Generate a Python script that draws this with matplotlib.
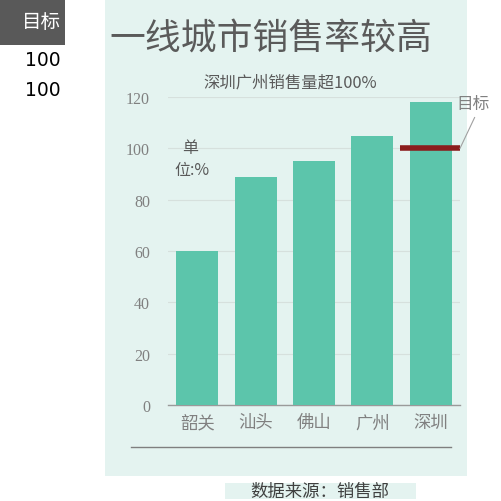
import matplotlib
matplotlib.use("Agg")
import matplotlib.pyplot as plt
import matplotlib.patches as mpatches
import numpy as np

plt.rcParams['font.family'] = ['Noto Sans CJK SC', 'DejaVu Sans']

# ── colours ──────────────────────────────────────────────────────────────────
PANEL  = "#e4f3f0"
BAR    = "#5cc5ab"
TARGET = "#8b1c1c"
TITLE  = "#5a5a5a"
GREY   = "#808080"
GRID   = "#d6e0dd"
BOX    = "#595959"

# ── data ─────────────────────────────────────────────────────────────────────
cities = ["韶关", "汕头", "佛山", "广州", "深圳"]
sales  = [60, 89, 95, 105, 118]
target = 100
yticks = [0, 20, 40, 60, 80, 100, 120]

W = H = 502
fig = plt.figure(figsize=(W / 100, H / 100), dpi=100, facecolor="white")

def fx(px):
    return px / W

def fy(py):
    return 1 - py / H

# mint background panel
fig.patches.append(mpatches.Rectangle((fx(105), fy(477)), fx(467 - 105), 477 / H,
                                      transform=fig.transFigure, facecolor=PANEL,
                                      edgecolor="none", zorder=-10))
# dark "目标" box top-left
fig.patches.append(mpatches.Rectangle((0, fy(46)), fx(65), 46 / H,
                                      transform=fig.transFigure, facecolor=BOX,
                                      edgecolor="none", zorder=-10))
fig.text(fx(41), fy(22), "目标", ha="center", va="center", fontsize=14, color="white")
fig.text(fx(43), fy(60), str(target), ha="center", va="center", fontsize=13.5,
         color="black", family=["DejaVu Sans"])
fig.text(fx(43), fy(90), str(target), ha="center", va="center", fontsize=13.5,
         color="black", family=["DejaVu Sans"])

# titles
fig.text(fx(109), fy(40), "一线城市销售率较高", ha="left", va="center",
         fontsize=25.8, color=TITLE)
fig.text(fx(290), fy(83), "深圳广州销售量超100%", ha="center", va="center",
         fontsize=11.8, color=TITLE)

# ── axes ─────────────────────────────────────────────────────────────────────
ax = fig.add_axes([fx(168), fy(406), fx(460 - 168), (406 - 98) / H])
ax.set_facecolor("none")
x = np.arange(len(cities))
ax.bar(x, sales, width=0.72, color=BAR, zorder=3)
ax.set_xlim(-0.5, len(cities) - 0.5)
ax.set_ylim(0, 120)
ax.set_yticks(yticks)
ax.set_yticklabels([str(t) for t in yticks], fontsize=11.5, color=GREY,
                   family=["Liberation Serif", "DejaVu Serif"])
ax.set_xticks(x)
ax.set_xticklabels(cities, fontsize=12.5, color=GREY)
ax.tick_params(length=0, pad=6)
ax.tick_params(axis="y", pad=13)
ax.yaxis.grid(True, color=GRID, linewidth=0.8, zorder=0)
ax.set_axisbelow(True)
for s in ["top", "right", "left"]:
    ax.spines[s].set_visible(False)
ax.spines["bottom"].set_color("#9a9a9a")
ax.spines["bottom"].set_linewidth(1)

# target marker on the last bar, with leader line and label
last = len(cities) - 1
ax.plot([last - 0.53, last + 0.5], [target, target], color=TARGET,
        linewidth=4, solid_capstyle="butt", zorder=4)
ax.plot([last + 0.5, last + 0.75], [target, target + 12], color="#a0a0a0",
        linewidth=0.8, clip_on=False, zorder=4)
ax.text(last + 0.72, target + 17.5, "目标", fontsize=12, color=GREY,
        ha="center", va="center", clip_on=False)

# unit label
fig.text(fx(190), fy(149), "单", ha="center", va="center", fontsize=11.5, color=TITLE)
fig.text(fx(192), fy(171), "位:%", ha="center", va="center", fontsize=11.5, color=TITLE)

# bottom rule
fig.add_artist(plt.Line2D([fx(131), fx(451)], [fy(448), fy(448)],
                          transform=fig.transFigure, color="#7f7f7f", linewidth=1))

# source
fig.patches.append(mpatches.Rectangle((fx(225), fy(500)), fx(416 - 225), 16 / H,
                                      transform=fig.transFigure, facecolor=PANEL,
                                      edgecolor="none", zorder=-10))
fig.text(fx(320), fy(492), "数据来源：销售部", ha="center", va="center",
         fontsize=12.5, color="#404040")

plt.savefig("out.png", dpi=100, facecolor="white")
